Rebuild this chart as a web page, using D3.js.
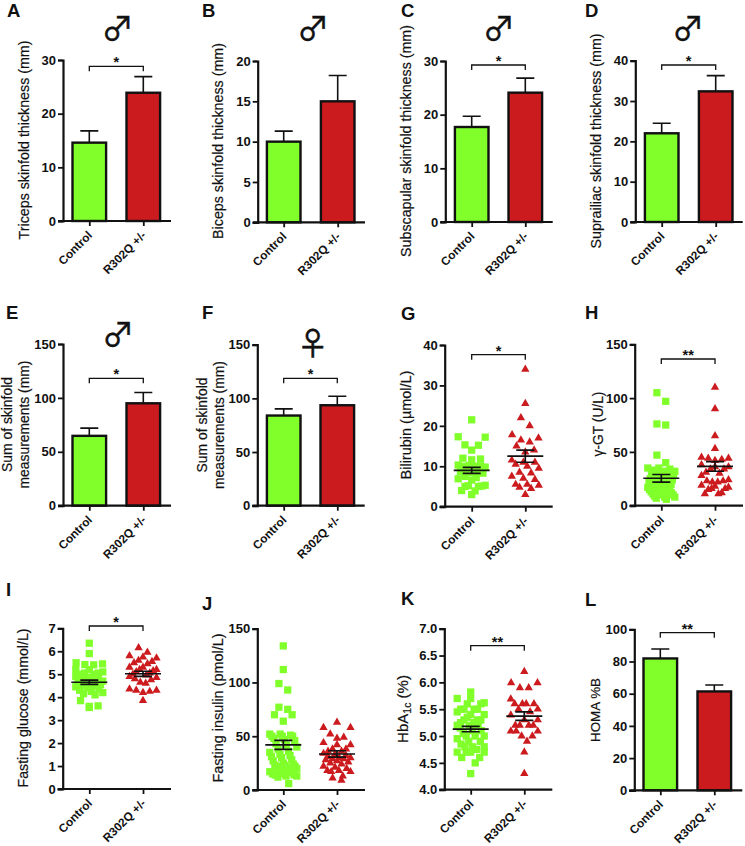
<!DOCTYPE html>
<html><head><meta charset="utf-8">
<script src="https://cdn.jsdelivr.net/npm/d3@7"></script>
<style>
html,body{margin:0;padding:0;background:#fff}
svg{display:block}
text{font-family:"Liberation Sans",Arial,sans-serif;fill:#111}
</style></head><body>
<svg id="c" width="745" height="846"></svg>
<script>
const categories = ["Control", "R302Q +/-"];

// Bar panels: [mean, mean + SEM] per group
const tricepsBars = [[14.6, 16.8], [23.9, 26.9]];
const bicepsBars = [[10.0, 11.3], [15.0, 18.2]];
const subscapularBars = [[17.7, 19.7], [24.1, 26.8]];
const suprailiacBars = [[22.0, 24.5], [32.4, 36.3]];
const sumMaleBars = [[64.8, 72], [95, 105]];
const sumFemaleBars = [[84, 90.2], [93.6, 102]];
const homaBars = [[81.9, 87.8], [61.4, 65.4]];

// Scatter panels: individual values
const bilirubinControl = [21.5,17.3,17.2,15.3,15.2,14,12,11.8,11.6,10.3,10.2,10.1,10,10,9.8,9,8.9,8.7,8.5,8.3,7.5,7.2,6.9,6.6,5.3,5.2,5.1,5,5,4,3.9,3];
const bilirubinMutant = [34,25.5,22,20,17.8,17,16.5,16,15,14,13.5,11.5,11,11,10.5,10,9.5,8.5,8.3,7.5,7,6.7,5.5,5.5,5.3,4.8,4.5,3];
const ggtControl = [105,97,76,75,47,40,35,35,34,33,32,32,31,30,30,28,28,27,26,25,25,24,23,22,22,20,20,19,18,17,16,16,15,15,14,13,12,12,11,10,10,9,8,8,7,6];
const ggtMutant = [110,90,65,53,45,44,44,43,42,38,36,36,34,34,31,30,28,24,23,23,22,22,19,18,17,16,16,15,12,11,11];
const glucoseControl = [6.35,5.9,5.5,5.45,5.42,5.41,5.2,5.2,5.1,5.05,5.05,5.0,5.0,4.9,4.85,4.8,4.8,4.75,4.7,4.7,4.65,4.6,4.6,4.55,4.5,4.5,4.45,4.4,4.35,4.3,4.25,4.2,4.15,4.1,3.85,3.62,3.6,3.55];
const glucoseMutant = [6.15,5.95,5.8,5.75,5.7,5.6,5.55,5.5,5.45,5.3,5.3,5.2,5.2,5.15,5.1,5.05,5.0,4.96,4.9,4.85,4.8,4.75,4.65,4.6,4.35,4.3,4.3,4.25,4.2,3.85];
const insulinControl = [134,112,99,93,77,75,70,70,64,52,52,51,50,50,50,48,47,46,43,42,40,38,36,35,33,32,31,30,28,27,25,24,23,23,22,22,21,20,20,19,17,17,16,15,15,14,14,13,13,12,6];
const insulinMutant = [63,58,58,52,49,48,44,42,42,38,38,36,36,34,33,32,31,30,30,29,29,28,27,26,25,24,22,21,20,18,18,17,17,13,11,9];
const hba1cControl = [5.82,5.7,5.7,5.62,5.6,5.6,5.5,5.5,5.5,5.5,5.45,5.4,5.4,5.35,5.3,5.3,5.3,5.25,5.25,5.2,5.2,5.2,5.15,5.1,5.1,5.05,5.0,5.0,5.0,4.95,4.9,4.9,4.85,4.8,4.8,4.8,4.75,4.7,4.7,4.7,4.7,4.6,4.6,4.5,4.3];
const hba1cMutant = [6.2,5.99,5.99,5.9,5.9,5.69,5.6,5.6,5.6,5.6,5.5,5.5,5.45,5.39,5.3,5.3,5.2,5.2,5.2,5.2,5.09,5.09,5.09,5.0,5.0,4.9,4.7,4.3];

// Scatter panels: [mean, SEM] per group
const bilirubinStats = [[9.0, 0.75], [12.5, 1.5]];
const ggtStats = [[25.5, 3.5], [36.5, 4.5]];
const glucoseStats = [[4.65, 0.09], [5.02, 0.11]];
const insulinStats = [[42, 4.2], [33.5, 3]];
const hba1cStats = [[5.13, 0.05], [5.37, 0.08]];

// Tick labels
const ticks30 = [0,10,20,30], ticks20 = [0,5,10,15,20], ticks40 = [0,10,20,30,40];
const ticks150 = [0,50,100,150], ticks7 = [0,1,2,3,4,5,6,7], ticksHba = [4,4.5,5,5.5,6,6.5,7], ticks100 = [0,20,40,60,80,100];

// Panel frames (layout only)
const panels = [
 {id:"A",lx:7,ly:16,ax:63,top:60,bot:221,end:171,c1:89.3,c2:143.3,ticks:ticks30,bars:tricepsBars,title:["Triceps skinfold thickness (mm)"],tl:[199],tx:[24],ty:140,sig:"*",by:66.3,sex:"♂",sx:117.5,sy:26},
 {id:"B",lx:202,ly:16,ax:257.7,top:61,bot:222.3,end:365,c1:283.7,c2:337.7,ticks:ticks20,bars:bicepsBars,title:["Biceps skinfold thickness (mm)"],tl:[196],tx:[217.7],ty:141,sex:"♂",sx:313,sy:26},
 {id:"C",lx:401,ly:16,ax:445.3,top:61,bot:222,end:552.7,c1:471.7,c2:525.3,ticks:ticks30,bars:subscapularBars,title:["Subscapular skinfold thickness (mm)"],tl:[232],tx:[405.7],ty:141,sig:"*",by:65,sex:"♂",sx:498.7,sy:26},
 {id:"D",lx:585,ly:16,ax:635.3,top:60.7,bot:222,end:742.7,c1:661.7,c2:715.7,ticks:ticks40,bars:suprailiacBars,title:["Suprailiac skinfold thickness (mm)"],tl:[215],tx:[595.7],ty:141,sig:"*",by:65,sex:"♂",sx:688,sy:26},
 {id:"E",lx:6,ly:318,ax:63,top:344,bot:505.7,end:171,c1:89.3,c2:143.3,ticks:ticks150,bars:sumMaleBars,title:["Sum of skinfold","measurements (mm)"],tl:[95,128],tx:[7.3,24],ty:424.5,sig:"*",by:378.3,sex:"♂",sx:118,sy:332},
 {id:"F",lx:202,ly:318,ax:257.3,top:344.7,bot:505.7,end:364.7,c1:283.7,c2:337.3,ticks:ticks150,bars:sumFemaleBars,title:["Sum of skinfold","measurements (mm)"],tl:[95,128],tx:[201.7,219],ty:425,sig:"*",by:378.3,sex:"♀",sx:312.7,sy:341.7},
 {id:"G",lx:401,ly:319,ax:444.7,top:345,bot:506.7,end:552.7,c1:471.7,c2:525.3,ticks:ticks40,pts:[bilirubinControl,bilirubinMutant],bins:[3.5,4],stats:bilirubinStats,title:["Bilirubin (µmol/L)"],tl:[109],tx:[406],ty:425,sig:"*",by:354.7},
 {id:"H",lx:585,ly:318,ax:634.7,top:344.3,bot:505.7,end:743,c1:661.3,c2:715,ticks:ticks150,pts:[ggtControl,ggtMutant],bins:[18,10],stats:ggtStats,title:["γ-GT (U/L)"],tl:[65],tx:[598],ty:424,sig:"**",by:359},
 {id:"I",lx:6,ly:595,ax:62.7,top:628.3,bot:789,end:171,c1:89.3,c2:143,ticks:ticks7,pts:[glucoseControl,glucoseMutant],bins:[0.45,0.45],stats:glucoseStats,title:["Fasting glucose (mmol/L)"],tl:[159],tx:[23],ty:708,sig:"*",by:626},
 {id:"J",lx:202,ly:609,ax:257.3,top:628.7,bot:790,end:365,c1:283.3,c2:337,ticks:ticks150,pts:[insulinControl,insulinMutant],bins:[18,12],stats:insulinStats,title:["Fasting insulin (pmol/L)"],tl:[149],tx:[217.7],ty:708},
 {id:"K",lx:401,ly:604,ax:444.3,top:628.7,bot:789.7,end:552.3,c1:470.7,c2:524.3,ticks:ticksHba,fmt:".1f",pts:[hba1cControl,hba1cMutant],bins:[0.25,0.3],stats:hba1cStats,hba:true,tl:[64],tx:[403],ty:709,sig:"**",by:645.7},
 {id:"L",lx:585,ly:605,ax:634.3,top:629.3,bot:790.3,end:742.3,c1:660.3,c2:714.3,ticks:ticks100,bars:homaBars,title:["HOMA %B"],tl:[64],tx:[595],ty:710,sig:"**",by:632.7}
];

const GREEN="#80ff2b", RED="#cc1b1e", INK="#111";
const colors=[GREEN,RED];
const svg=d3.select("#c");

function gcd(a,b){return b?gcd(b,a%b):a;}

// Prism-style column scatter: values are binned; within a bin they spread symmetrically
function swarm(values,h){
  const out=[];
  const groups=d3.group(values,v=>Math.floor(v/h));
  for(const g of groups.values()){
    const s=[...g].sort((a,b)=>b-a), n=s.length;
    const step=n>1?Math.min(8.8,27/(n-1)):0;
    const slots=d3.range(n).map(i=>i-(n-1)/2);
    if(n<7){ // sparse bin: highest values outermost
      let l=0,r=n-1;
      s.forEach((v,i)=>out.push({v,dx:(i%2===0?slots[l++]:slots[r--])*step}));
    } else { // dense bin: stride through the slots so the column fills solid
      let stride=Math.round(n*0.38);
      while(gcd(stride,n)!==1) stride++;
      s.forEach((v,i)=>out.push({v,dx:slots[(i*stride)%n]*step}));
    }
  }
  return out.sort((a,b)=>a.v-b.v);
}

panels.forEach(p=>{
  const g=svg.append("g");
  const y=d3.scaleLinear().domain(d3.extent(p.ticks)).range([p.bot,p.top]);
  const x=d3.scalePoint().domain(categories).range([p.c1,p.c2]);

  g.append("text").text(p.id).attr("x",p.lx).attr("y",p.ly+.5).attr("font-size",18.5).attr("font-weight",700);

  // Marks
  if(p.bars){
    g.selectAll(".err").data(p.bars).join("path")
      .attr("d",(d,i)=>{const c=x(categories[i]);return `M${c},${y(d[0])}V${y(d[1])}M${c-9},${y(d[1])}H${c+9}`;})
      .attr("stroke",INK).attr("stroke-width",1.6).attr("fill","none");
    g.selectAll(".bar").data(p.bars).join("rect")
      .attr("x",(d,i)=>x(categories[i])-16.8).attr("width",33.6)
      .attr("y",d=>y(d[0])).attr("height",d=>p.bot-y(d[0]))
      .attr("fill",(d,i)=>colors[i]).attr("stroke",INK).attr("stroke-width",2.4);
  }
  if(p.pts){
    p.pts.forEach((vals,i)=>{
      const c=x(categories[i]);
      const sym=d3.symbol().type(i?d3.symbolTriangle:d3.symbolSquare).size(i?30:53);
      g.selectAll(".pt"+i).data(swarm(vals,p.bins[i])).join("path")
        .attr("d",sym)
        .attr("transform",d=>`translate(${c+d.dx},${y(d.v)})`)
        .attr("fill",colors[i]);
    });
    p.stats.forEach((d,i)=>{
      const c=x(categories[i]);
      g.append("path")
       .attr("d",`M${c-18},${y(d[0])}H${c+18}M${c-9},${y(d[0]+d[1])}H${c+9}M${c-9},${y(d[0]-d[1])}H${c+9}M${c},${y(d[0]+d[1])}V${y(d[0]-d[1])}`)
       .attr("stroke",INK).attr("stroke-width",1.7).attr("fill","none");
    });
  }

  // Axes
  const ya=g.append("g").attr("transform",`translate(${p.ax},0)`)
    .call(d3.axisLeft(y).tickValues(p.ticks).tickSizeOuter(0).tickSize(5).tickPadding(2).tickFormat(p.fmt?d3.format(p.fmt):d3.format("d")));
  ya.select(".domain").attr("stroke",INK).attr("stroke-width",2.2);
  ya.selectAll(".tick line").attr("stroke",INK).attr("stroke-width",1.8);
  ya.selectAll(".tick text").attr("font-size",13).attr("font-weight",700).attr("font-family",'"Liberation Sans"').attr("fill",INK);

  const xa=g.append("g").attr("transform",`translate(0,${p.bot})`)
    .call(d3.axisBottom(x).tickSizeOuter(0).tickSize(5));
  xa.select(".domain").attr("d",`M${p.ax-5},0H${p.end}`).attr("stroke",INK).attr("stroke-width",2.2);
  xa.selectAll(".tick line").attr("stroke",INK).attr("stroke-width",1.8);
  xa.selectAll(".tick text")
    .attr("font-size",11.8).attr("font-weight",700).attr("font-family",'"Liberation Sans"').attr("fill",INK)
    .attr("text-anchor","end").attr("dy",0).attr("y",0)
    .attr("transform","translate(3,15) rotate(-45)");

  // Y title, sized so that it spans the reference's length
  const fit=(t,len)=>{const l=t.node().getComputedTextLength();t.attr("font-size",14*len/l);};
  if(p.hba){
    const t=g.append("text").attr("transform",`translate(${p.tx[0]+5},${p.ty}) rotate(-90)`)
      .attr("text-anchor","middle").attr("font-size",15).attr("stroke",INK).attr("stroke-width",.2);
    t.append("tspan").text("HbA");
    t.append("tspan").text("1c").attr("font-size",10.5).attr("dy",3);
    t.append("tspan").text(" (%)").attr("dy",-3);
  } else {
    p.title.forEach((s,i)=>{
      const t=g.append("text").text(s)
       .attr("transform",`translate(${p.tx[i]+5},${p.ty}) rotate(-90)`)
       .attr("text-anchor","middle").attr("font-size",14).attr("stroke",INK).attr("stroke-width",.2);
      fit(t,p.tl[i]);
    });
  }

  // Significance bracket
  if(p.sig){
    g.append("path").attr("d",`M${p.c1},${p.by+5}V${p.by}H${p.c2}V${p.by+5}`)
      .attr("fill","none").attr("stroke",INK).attr("stroke-width",1.3);
    g.append("text").text(p.sig).attr("x",(p.c1+p.c2)/2).attr("y",p.by+1)
      .attr("text-anchor","middle").attr("font-size",14.5).attr("font-weight",700);
  }

  // Sex symbol
  if(p.sex){
    g.append("text").text(p.sex).attr("x",p.sx).attr("y",p.sy+13.5)
      .attr("text-anchor","middle").attr("font-size",32)
      .attr("stroke",INK).attr("stroke-width",.5)
      .style("font-family",'"Noto Sans CJK SC"');
  }
});
</script>
</body></html>
